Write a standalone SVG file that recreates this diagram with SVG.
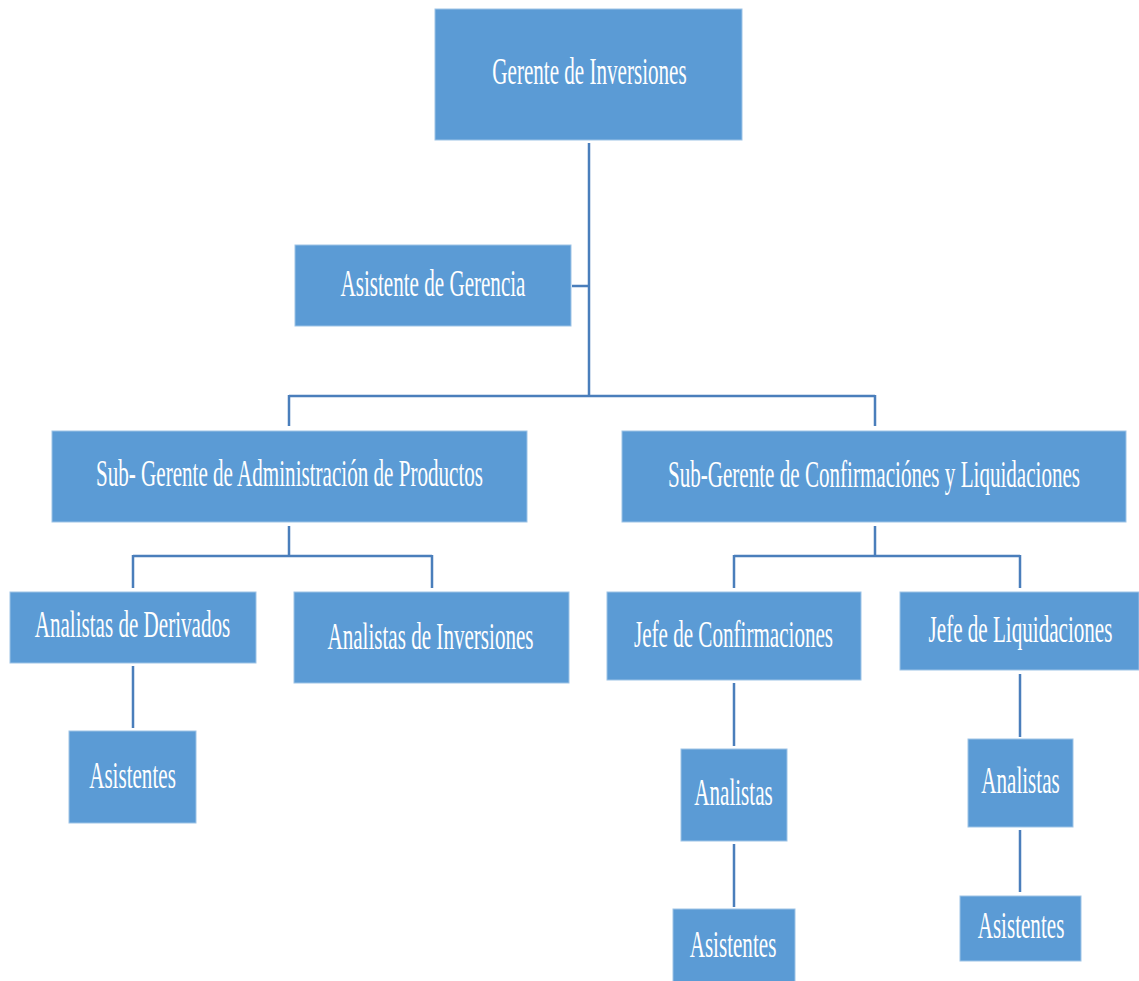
<svg xmlns="http://www.w3.org/2000/svg" width="1139" height="981" viewBox="0 0 1139 981">
<style>
.box{fill:#5B9BD5;stroke:#9DC3E6;stroke-width:1}
.lbl{font-family:"Liberation Serif","Times New Roman",serif;font-size:38px;fill:#ffffff;text-anchor:middle}
.con{stroke:#4A7EBB;stroke-width:2.5;fill:none}
</style>
<rect width="1139" height="981" fill="#ffffff"/>
<g id="connectors">
<path class="con" d="M589 143V396M572 286H589M289 396H875M289 395V426M875 395V426"/>
<path class="con" d="M289 526V556M133 556H432M133 555V588M432 555V588M133 666V728"/>
<path class="con" d="M875 526V556M734 556H1020M734 555V588M1020 555V588"/>
<path class="con" d="M734 683V746M734 844V907M1020 674V737M1020 830V892"/>
</g>
<g id="n-gerente"><rect class="box" x="435" y="9" width="307" height="131"/><text class="lbl" transform="translate(589.5,84) scale(0.555,1)">Gerente de Inversiones</text></g>
<g id="n-asistente-gerencia"><rect class="box" x="295" y="245" width="276" height="81"/><text class="lbl" transform="translate(433,296) scale(0.555,1)">Asistente de Gerencia</text></g>
<g id="n-sub-admin"><rect class="box" x="52" y="431" width="475" height="91"/><text class="lbl" transform="translate(289.5,486) scale(0.555,1)">Sub- Gerente de Administración de Productos</text></g>
<g id="n-sub-conf"><rect class="box" x="622" y="431" width="504" height="91"/><text class="lbl" transform="translate(874,487) scale(0.555,1)">Sub-Gerente de Confirmaciónes y Liquidaciones</text></g>
<g id="n-an-deriv"><rect class="box" x="10" y="592" width="246" height="71"/><text class="lbl" transform="translate(132.5,637) scale(0.555,1)">Analistas de Derivados</text></g>
<g id="n-an-inv"><rect class="box" x="294" y="592" width="275" height="91"/><text class="lbl" transform="translate(430.5,649) scale(0.555,1)">Analistas de Inversiones</text></g>
<g id="n-asist-deriv"><rect class="box" x="69" y="731" width="127" height="92"/><text class="lbl" transform="translate(132.5,788) scale(0.555,1)">Asistentes</text></g>
<g id="n-jefe-conf"><rect class="box" x="607" y="592" width="254" height="88"/><text class="lbl" transform="translate(733.5,647) scale(0.555,1)">Jefe de Confirmaciones</text></g>
<g id="n-jefe-liq"><rect class="box" x="900" y="592" width="239" height="78"/><text class="lbl" transform="translate(1020.5,642) scale(0.555,1)">Jefe de Liquidaciones</text></g>
<g id="n-an-conf"><rect class="box" x="681" y="749" width="106" height="92"/><text class="lbl" transform="translate(733.5,805) scale(0.555,1)">Analistas</text></g>
<g id="n-asist-conf"><rect class="box" x="673" y="909" width="122" height="80"/><text class="lbl" transform="translate(733,957) scale(0.555,1)">Asistentes</text></g>
<g id="n-an-liq"><rect class="box" x="968" y="739" width="105" height="88"/><text class="lbl" transform="translate(1020.5,793) scale(0.555,1)">Analistas</text></g>
<g id="n-asist-liq"><rect class="box" x="960" y="896" width="121" height="65"/><text class="lbl" transform="translate(1021,938) scale(0.555,1)">Asistentes</text></g>
</svg>
